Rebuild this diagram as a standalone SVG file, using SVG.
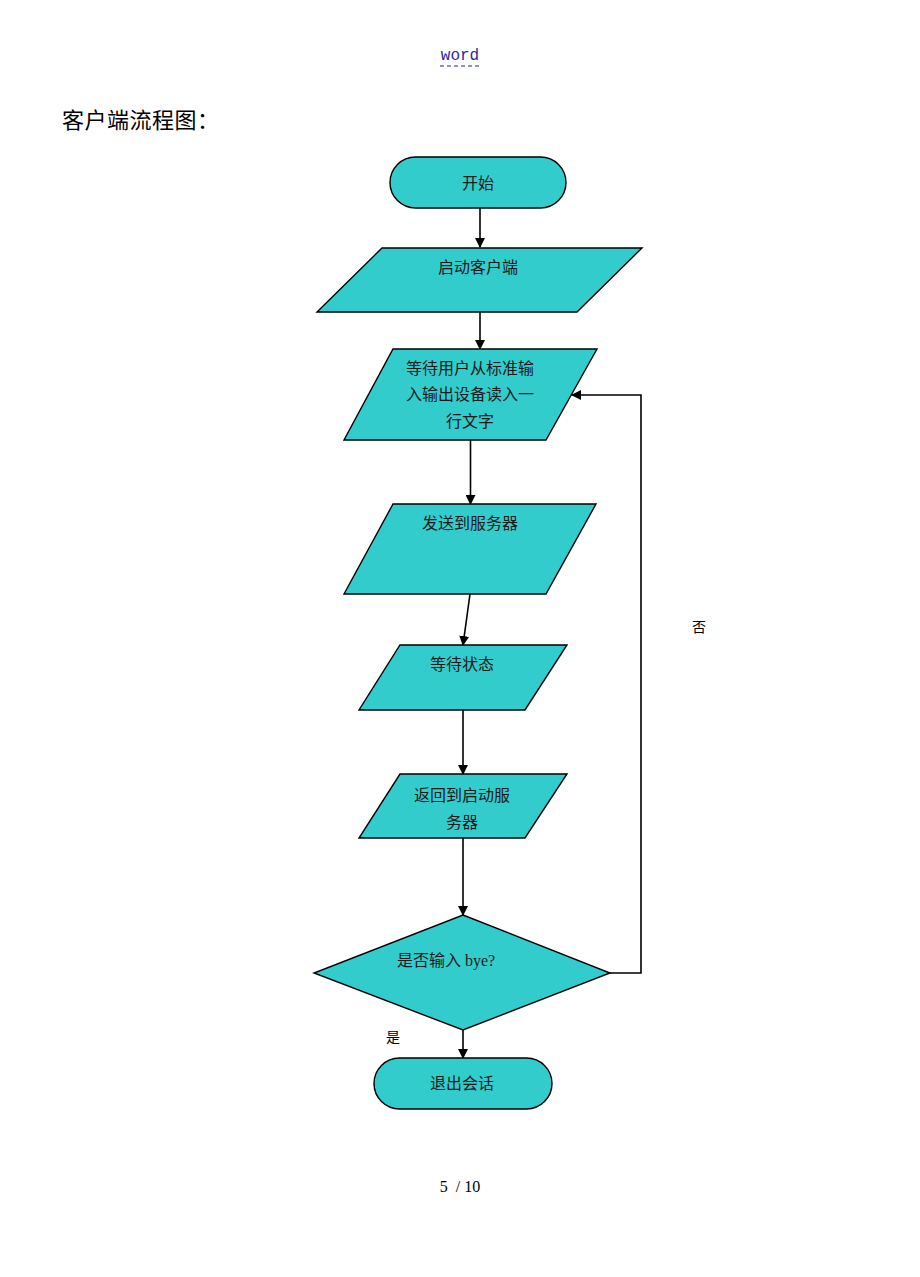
<svg xmlns="http://www.w3.org/2000/svg" width="920" height="1277" viewBox="0 0 920 1277">
<defs>
<style>
.shape{fill:#33CCCC;stroke:#000;stroke-width:1.4}
.t{font-family:"Liberation Serif","Noto Sans CJK SC",serif;font-size:16px;fill:#1a1a1a;text-anchor:middle}
.lbl{font-family:"Liberation Serif","Noto Sans CJK SC",serif;font-size:14px;fill:#000;text-anchor:middle}
.c{fill:none;stroke:#000;stroke-width:1.6}
</style>
<marker id="ah" markerWidth="10" markerHeight="10" refX="9" refY="5" orient="auto" markerUnits="userSpaceOnUse">
<path d="M0,0 L10,5 L0,10 Z" fill="#000"/>
</marker>
</defs>
<rect width="920" height="1277" fill="#fff"/>
<g id="header">
<text x="460" y="60" font-family="Liberation Mono,monospace" font-size="16" fill="#2a2aa0" text-anchor="middle">word</text>
<line x1="440" y1="66" x2="480" y2="66" stroke="#6a6ad0" stroke-width="1.4" stroke-dasharray="4,3"/>
<text x="62" y="128" font-family="Liberation Serif,'Noto Sans CJK SC',serif" font-size="22" letter-spacing="0.5" fill="#000">客户端流程图：</text>
</g>
<g id="connectors">
<line class="c" x1="480" y1="208" x2="480" y2="247" marker-end="url(#ah)"/>
<line class="c" x1="480" y1="312" x2="480" y2="349" marker-end="url(#ah)"/>
<line class="c" x1="470.5" y1="440" x2="470.5" y2="504" marker-end="url(#ah)"/>
<line class="c" x1="470" y1="594" x2="463" y2="645" marker-end="url(#ah)"/>
<line class="c" x1="463" y1="710" x2="463" y2="774" marker-end="url(#ah)"/>
<line class="c" x1="463" y1="838" x2="463" y2="915" marker-end="url(#ah)"/>
<line class="c" x1="463" y1="1030" x2="463" y2="1058" marker-end="url(#ah)"/>
<polyline class="c" points="610,973 641,973 641,395 572,395" marker-end="url(#ah)"/>
<text class="lbl" x="699" y="632">否</text>
<text class="lbl" x="393" y="1042">是</text>
</g>
<g id="start">
<rect class="shape" x="390" y="157" width="176" height="51" rx="25.5"/>
<text class="t" x="478" y="189">开始</text>
</g>
<g id="launch">
<polygon class="shape" points="382,248 642,248 577,312 317,312"/>
<text class="t" x="478" y="273">启动客户端</text>
</g>
<g id="wait-input">
<polygon class="shape" points="393,349 597,349 546,440 344,440"/>
<text class="t" x="470" y="374">等待用户从标准输</text>
<text class="t" x="470" y="400">入输出设备读入一</text>
<text class="t" x="470" y="427">行文字</text>
</g>
<g id="send">
<polygon class="shape" points="393,504 596,504 546,594 344,594"/>
<text class="t" x="470" y="529">发送到服务器</text>
</g>
<g id="wait-state">
<polygon class="shape" points="400,645 567,645 525,710 359,710"/>
<text class="t" x="462" y="670">等待状态</text>
</g>
<g id="return">
<polygon class="shape" points="400,774 567,774 525,838 359,838"/>
<text class="t" x="462" y="801">返回到启动服</text>
<text class="t" x="462" y="828">务器</text>
</g>
<g id="decision">
<polygon class="shape" points="463,915 610,973 463,1030 314,973"/>
<text class="t" x="446" y="966">是否输入 bye?</text>
</g>
<g id="end">
<rect class="shape" x="374" y="1058" width="178" height="51" rx="25.5"/>
<text class="t" x="462" y="1089">退出会话</text>
</g>
<text x="460" y="1192" font-family="Liberation Serif,serif" font-size="16" fill="#000" text-anchor="middle" xml:space="preserve">5  / 10</text>
</svg>
